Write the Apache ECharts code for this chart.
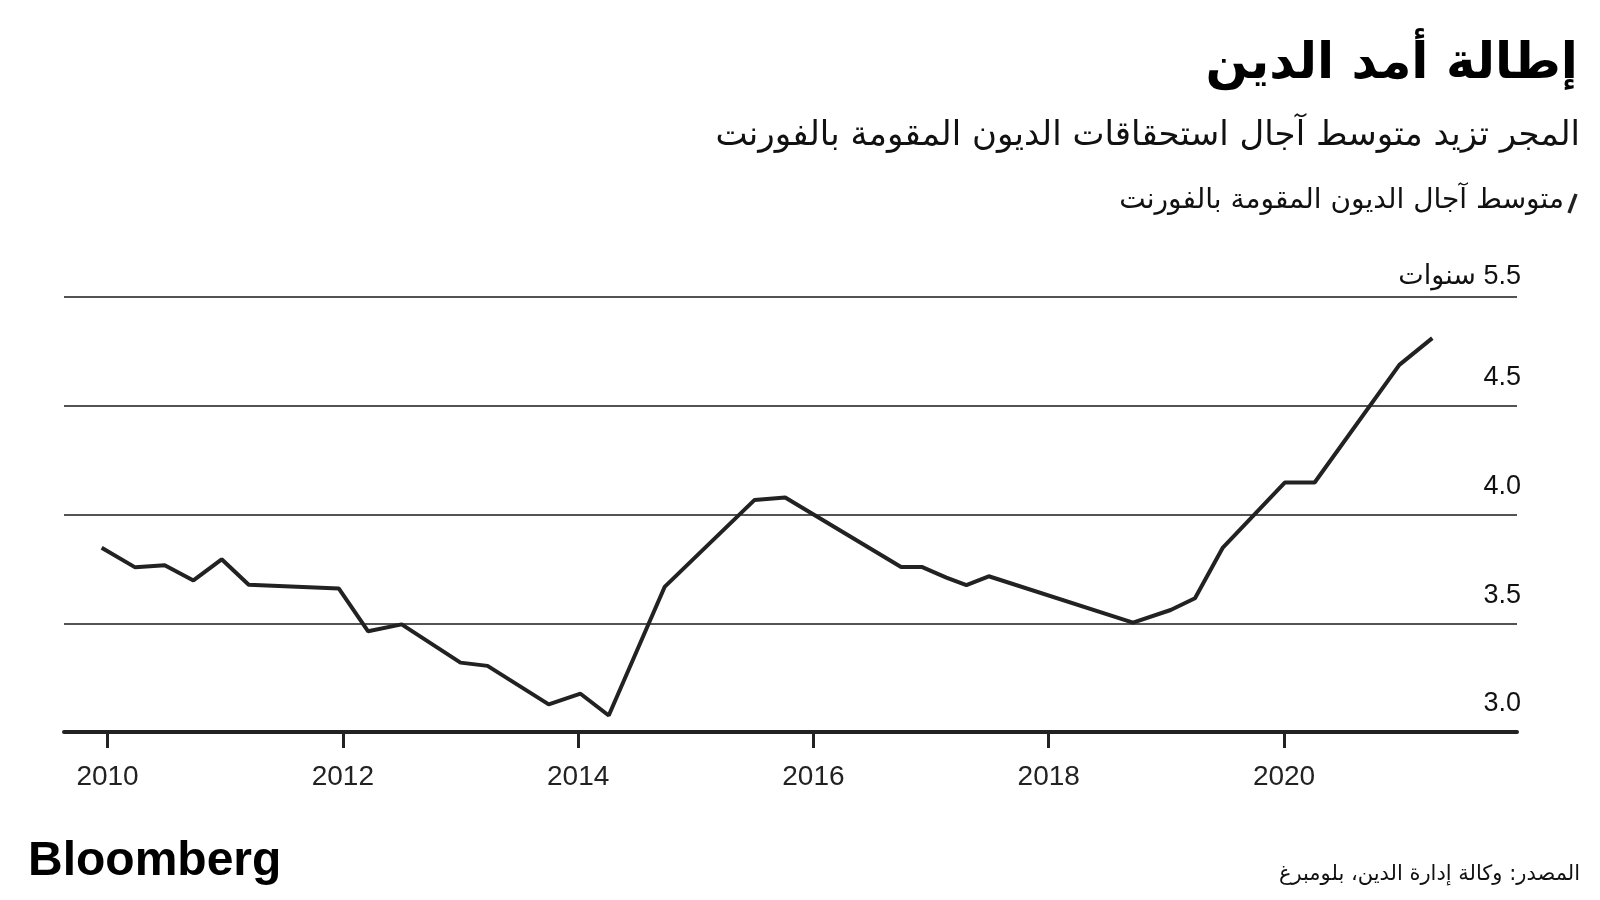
<!DOCTYPE html>
<html>
<head>
<meta charset="utf-8">
<script src="https://cdn.jsdelivr.net/npm/echarts@6/dist/echarts.min.js"></script>
<style>
html, body { margin: 0; padding: 0; background: #fff; }
#chart { width: 1600px; height: 900px; }
</style>
</head>
<body>
<div id="chart" dir="rtl"></div>
<script>
// متوسط آجال الديون المقومة بالفورنت (سنوات)
var years = [2009.95, 2010.235, 2010.486, 2010.73, 2010.97, 2011.2, 2011.965, 2012.215, 2012.5, 2013.0,
    2013.23, 2013.75, 2014.02, 2014.26, 2014.735, 2015.5, 2015.76, 2016.745, 2016.92, 2017.13,
    2017.3, 2017.49, 2018.716, 2019.036, 2019.243, 2019.48, 2020.006, 2020.26, 2020.98, 2021.26];
var maturity = [3.847, 3.757, 3.767, 3.697, 3.794, 3.677, 3.66, 3.463, 3.495, 3.319,
    3.304, 3.127, 3.176, 3.076, 3.667, 4.067, 4.078, 3.759, 3.759, 3.71,
    3.675, 3.716, 3.503, 3.561, 3.615, 3.848, 4.147, 4.147, 4.688, 4.811];
var yearTicks = [2010, 2012, 2014, 2016, 2018, 2020];
var valueTicks = [3, 3.5, 4, 4.5, 5];
var valueLabels = ['3.0', '3.5', '4.0', '4.5', '5.5 سنوات'];

var chart = echarts.init(document.getElementById('chart'));

var points = years.map(function (y, i) { return [y, maturity[i]]; });
var arFont = '"DejaVu Sans", sans-serif';

var option = {
    backgroundColor: '#fff',
    animation: false,
    grid: { left: 64, right: 83, top: 297, bottom: 168 },
    xAxis: {
        type: 'value',
        min: 2009.63,
        max: 2021.98,
        splitLine: { show: false },
        axisLine: { show: true, lineStyle: { color: '#222', width: 4 } },
        axisTick: { show: true, customValues: yearTicks, length: 16, lineStyle: { color: '#222', width: 3 } },
        axisLabel: {
            customValues: yearTicks,
            margin: 31,
            color: '#222',
            fontSize: 28,
            fontFamily: '"Liberation Sans", Arial, sans-serif',
            formatter: function (v) { return String(v); }
        }
    },
    yAxis: {
        type: 'value',
        position: 'right',
        min: 3,
        max: 5,
        interval: 0.5,
        axisLine: { show: false },
        axisTick: { show: false },
        splitLine: { lineStyle: { color: '#1a1a1a', width: 1.5 } },
        axisLabel: {
            inside: true,
            margin: -4,
            verticalAlign: 'bottom',
            padding: [0, 0, 13, 0],
            formatter: function (v) {
                var i = valueTicks.indexOf(v);
                var t = i >= 0 ? valueLabels[i] : '';
                return i === valueTicks.length - 1 ? '{top|' + t + '}' : '{n|' + t + '}';
            },
            rich: {
                n: { fontSize: 27, lineHeight: 30, color: '#111', fontFamily: '"Liberation Sans", Arial, sans-serif' },
                top: { fontSize: 27, lineHeight: 14, color: '#111', fontFamily: '"Liberation Sans", "DejaVu Sans", sans-serif' }
            }
        }
    },
    series: [{
        type: 'line',
        data: points,
        showSymbol: false,
        lineStyle: { color: '#222', width: 4 },
        z: 3
    }],
    graphic: [
        { type: 'text', right: 22, top: 40, style: { text: 'إطالة أمد الدين', font: 'bold 50px ' + arFont, fill: '#000' } },
        { type: 'text', right: 20, top: 119, style: { text: 'المجر تزيد متوسط آجال استحقاقات الديون المقومة بالفورنت', font: '34px ' + arFont, fill: '#111' } },
        { type: 'text', right: 36, top: 187, style: { text: 'متوسط آجال الديون المقومة بالفورنت', font: '28px ' + arFont, fill: '#111' } },
        { type: 'line', shape: { x1: 1569, y1: 213, x2: 1576, y2: 194 }, style: { stroke: '#222', lineWidth: 3.5 } },
        { type: 'text', left: 28, top: 838, style: { text: 'Bloomberg', font: 'bold 48px "Liberation Sans", Arial, sans-serif', fill: '#000' } },
        { type: 'text', right: 20, top: 864, style: { text: 'المصدر: وكالة إدارة الدين، بلومبرغ', font: '21px ' + arFont, fill: '#111' } }
    ]
};

chart.setOption(option);
</script>
</body>
</html>
